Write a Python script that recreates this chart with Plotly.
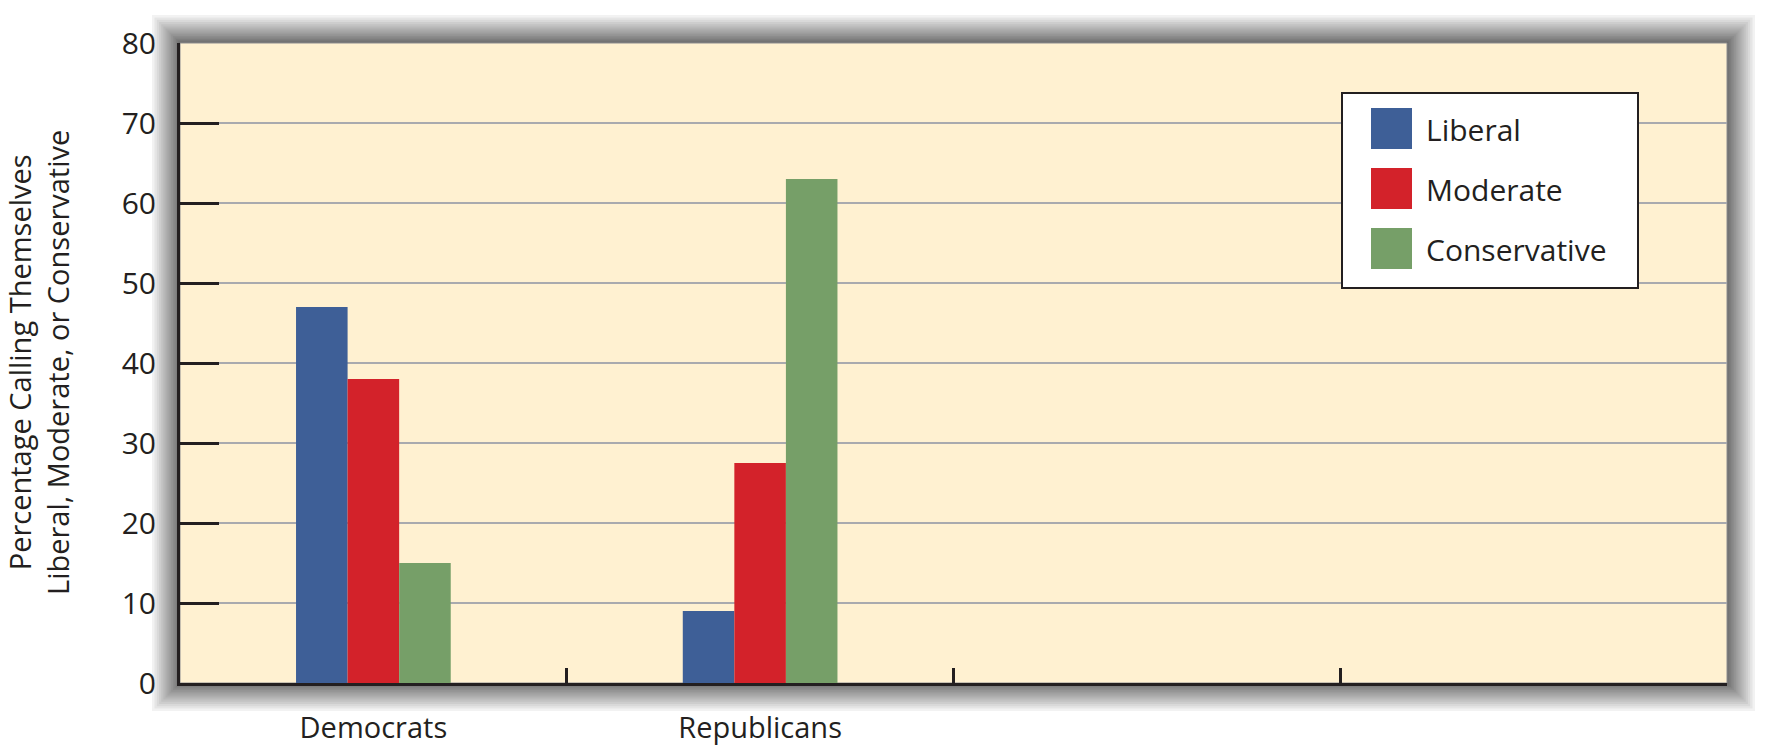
import plotly.graph_objects as go

# ---- data ----
categories = ["Democrats", "Republicans", " ", "  "]
groups = ["Democrats", "Republicans"]
series_names = ["Liberal", "Moderate", "Conservative"]
liberal = [47, 9]
moderate = [38, 27.5]
conservative = [15, 63]
series_values = [liberal, moderate, conservative]
series_colors = ["#3E5F97", "#D3222A", "#769F68"]
y_ticks = [0, 10, 20, 30, 40, 50, 60, 70, 80]
y_title = "Percentage Calling Themselves<br>Liberal, Moderate, or Conservative"

FONT = "Open Sans"
DARK = "#231F20"
CREAM = "#FFF1D1"
GRID = "#A9AAAE"

W, H = 1767, 747
# plot area in page pixels: x 180..1727, y 43..683
L, T = 180, 43
R = W - 1727
B = H - 683
PW, PH = W - L - R, H - T - B


def px2x(px):
    return (px - L) / PW


def py2y(py):
    return (H - B - py) / PH


fig = go.Figure()
for name, vals, col in zip(series_names, series_values, series_colors):
    fig.add_trace(go.Bar(
        x=groups, y=vals, name=name,
        marker=dict(color=col, line=dict(width=0)),
        showlegend=False,
    ))

shapes = []
# soft drop shadow around the plot frame
N = 16
for i in range(N, 0, -1):
    d = 28 * (i / N) ** 1.4
    shapes.append(dict(
        type="rect", xref="paper", yref="paper", layer="below",
        x0=-d / PW, x1=1 + d / PW, y0=-d / PH, y1=1 + d / PH,
        fillcolor="rgba(0,0,0,0.052)", line=dict(width=0),
    ))
# cream plotting area
shapes.append(dict(
    type="rect", xref="paper", yref="paper", layer="below",
    x0=0, x1=1, y0=0, y1=1, fillcolor=CREAM,
    line=dict(color="#8E8E90", width=1),
))

# custom legend box
lx0, lx1, ly0, ly1 = 1342, 1638, 93, 288
shapes.append(dict(
    type="rect", xref="paper", yref="paper", layer="above",
    x0=px2x(lx0), x1=px2x(lx1), y0=py2y(ly1), y1=py2y(ly0),
    fillcolor="white", line=dict(color=DARK, width=2),
))
annotations = []
for k, (name, col) in enumerate(zip(series_names, series_colors)):
    cy = 128.5 + 60 * k
    shapes.append(dict(
        type="rect", xref="paper", yref="paper", layer="above",
        x0=px2x(1371), x1=px2x(1412), y0=py2y(cy + 20.5), y1=py2y(cy - 20.5),
        fillcolor=col, line=dict(width=0),
    ))
    annotations.append(dict(
        xref="paper", yref="paper", x=px2x(1424), y=py2y(cy + 1),
        xanchor="left", yanchor="middle", showarrow=False,
        text=name, font=dict(family=FONT, size=30, color=DARK),
    ))

# y axis title (two lines, rotated)
annotations.append(dict(
    xref="paper", yref="paper", x=px2x(38), y=0.5,
    xanchor="center", yanchor="middle", showarrow=False, textangle=-90,
    text=y_title, font=dict(family=FONT, size=29, color=DARK),
))

fig.update_layout(
    width=W, height=H,
    margin=dict(l=L, r=R, t=T, b=B, pad=0),
    paper_bgcolor="white",
    plot_bgcolor="rgba(0,0,0,0)",
    barmode="group", bargap=0.6, bargroupgap=0,
    font=dict(family=FONT, color=DARK),
    shapes=shapes,
    annotations=annotations,
    showlegend=False,
    xaxis=dict(
        type="category", categoryorder="array", categoryarray=categories,
        range=[-0.5, 3.5], tickson="boundaries", automargin=False,
        ticks="inside", ticklen=15, tickwidth=2.5, tickcolor=DARK,
        showgrid=False, showline=True, linecolor=DARK, linewidth=3,
        tickfont=dict(family=FONT, size=29, color=DARK),
        ticklabelstandoff=17, zeroline=False,
    ),
    yaxis=dict(
        range=[0, 80], tickvals=y_ticks, automargin=False,
        ticks="inside", ticklen=39, tickwidth=2.5, tickcolor=DARK,
        showgrid=True, gridcolor=GRID, gridwidth=2,
        showline=True, linecolor=DARK, linewidth=3,
        zeroline=False,
        tickfont=dict(family=FONT, size=30, color=DARK),
        ticklabelstandoff=15,
    ),
)

fig.write_html(
    "out.html",
    config={"displayModeBar": False},
    post_script="document.body.style.margin='0';document.body.style.overflow='hidden';",
)
